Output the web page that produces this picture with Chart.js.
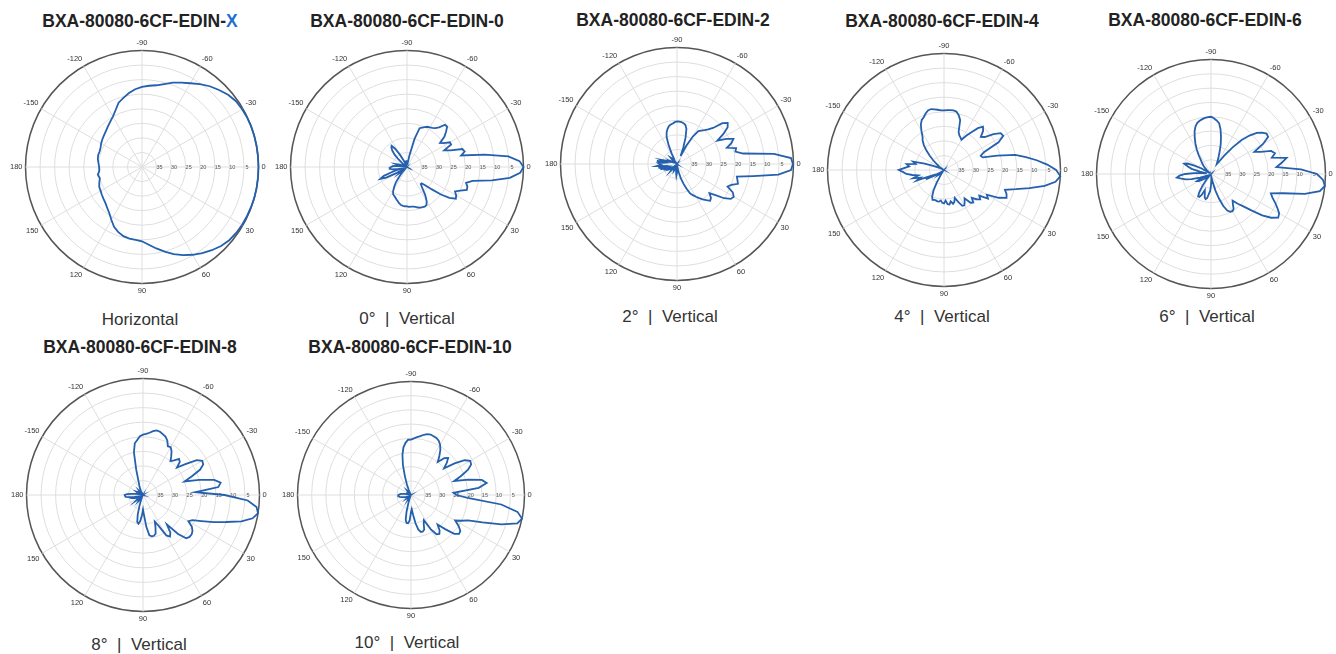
<!DOCTYPE html>
<html>
<head>
<meta charset="utf-8">
<script src="https://cdn.jsdelivr.net/npm/chart.js@4.4.0/dist/chart.umd.min.js"></script>
<style>
body{margin:0;background:#fff;width:1336px;height:654px;position:relative;overflow:hidden;font-family:"Liberation Sans",Arial,sans-serif;}
.t{position:absolute;font-weight:bold;font-size:17.5px;line-height:20px;color:#222;transform:translateX(-50%);white-space:nowrap}
.t span{color:#1f6fd0}
.c{position:absolute;font-size:17px;line-height:20px;color:#333;transform:translateX(-50%);white-space:nowrap}
canvas{position:absolute}
</style>
</head>
<body>
<div class="t" style="left:140px;top:11px">BXA-80080-6CF-EDIN-<span>X</span></div>
<div class="t" style="left:407px;top:11px">BXA-80080-6CF-EDIN-0</div>
<div class="t" style="left:673px;top:10px">BXA-80080-6CF-EDIN-2</div>
<div class="t" style="left:942px;top:11px">BXA-80080-6CF-EDIN-4</div>
<div class="t" style="left:1205px;top:10px">BXA-80080-6CF-EDIN-6</div>
<div class="t" style="left:140px;top:337px">BXA-80080-6CF-EDIN-8</div>
<div class="t" style="left:410px;top:337px">BXA-80080-6CF-EDIN-10</div>

<div class="c" style="left:140px;top:310px">Horizontal</div>
<div class="c" style="left:407px;top:309px">0°&nbsp; |&nbsp; Vertical</div>
<div class="c" style="left:670px;top:307px">2°&nbsp; |&nbsp; Vertical</div>
<div class="c" style="left:942px;top:307px">4°&nbsp; |&nbsp; Vertical</div>
<div class="c" style="left:1207px;top:307px">6°&nbsp; |&nbsp; Vertical</div>
<div class="c" style="left:139px;top:635px">8°&nbsp; |&nbsp; Vertical</div>
<div class="c" style="left:407px;top:633px">10°&nbsp; |&nbsp; Vertical</div>

<canvas id="pX" width="264" height="264" style="left:6px;top:35px"></canvas>
<canvas id="p0" width="264" height="264" style="left:271px;top:35px"></canvas>
<canvas id="p2" width="264" height="264" style="left:541px;top:32px"></canvas>
<canvas id="p4" width="264" height="264" style="left:808px;top:38px"></canvas>
<canvas id="p6" width="260" height="260" style="left:1077px;top:44px"></canvas>
<canvas id="p8" width="264" height="264" style="left:7px;top:363px"></canvas>
<canvas id="p10" width="258" height="258" style="left:278px;top:366px"></canvas>

<script>
// angles in degrees, clockwise from the right (0), labels shown every 30
const anglesH = [0,5,10,15,20,25,30,35,40,45,50,55,60,65,70,75,80,85,90,95,100,105,110,115,
  120,125,130,135,140,145,150,155,160,165,170,175,180,185,190,195,200,205,210,215,220,225,230,235,
  240,245,250,255,260,265,270,275,280,285,290,295,300,305,310,315,320,325,330,335,340,345,350,355];

const anglesV = [0,3,6,9,12,15,18,21,24,27,30,33,36,39,42,45,48,51,54,57,60,63,66,69,72,75,78,81,84,87,
  90,93,96,99,102,105,108,111,114,117,120,123,126,129,132,135,138,141,144,147,150,153,156,159,162,165,168,171,174,177,
  180,183,186,189,192,195,198,201,204,207,210,213,216,219,222,225,228,231,234,237,240,243,246,249,252,255,258,261,264,267,
  270,273,276,279,282,285,288,291,294,297,300,303,306,309,312,315,318,321,324,327,330,333,336,339,342,345,348,351,354,357];

// relative level in dB
const horizX = [0,0,0,0,-0.1,-0.2, -0.3,-0.5,-0.9,-1.6,-2.7,-3.9, -5.2,-6.6,-8.2,-9.9,-11.6,-13.2,
  -14.5,-14.9,-15.0,-15.4,-16.2,-17.3, -19.0,-20.5,-21.5,-22.3,-22.8,-23.2, -23.6,-23.8,-24.4,-25.0,-24.6,-25.3,
  -25.3,-25.0,-24.6,-24.4,-24.5,-24.3, -23.8,-23.4,-23.0,-22.5,-21.8,-21.0, -20.0,-18.5,-16.5,-15.4,-14.2,-13.2,
  -12.5,-12.0,-11.5,-10.5,-9.2,-8.0, -6.8,-5.3,-3.8,-2.6,-1.4,-0.6, -0.3,-0.1,0,0,0,0];

const vert0 = [0,-1.1,-4.5,-10.5,-17,-19,-18.2,-18,-20,-21.5,
  -20.5,-20,-22,-25,-28.5,-31,-32.5,-32.5,-31,-28.5,
  -26.5,-25.3,-25.1,-25.2,-25.3,-25.6,-26,-26.2,-26.3,-26.3,
  -26.5,-26.5,-26.6,-26.8,-27.2,-27.8,-28.3,-28.8,-29.2,-29.5,
  -30.5,-32,-33.5,-36,-38,-39,-38,-37,-38,-39,
  -36,-32,-30,-31.5,-35,-38,-37,-35,-34,-34,
  -34.5,-35,-36,-38,-37,-36,-37,-39,-39.5,-39,
  -39,-39.5,-39,-38,-36,-34,-32.5,-31.5,-31,-32.5,
  -35,-37.5,-39,-39.5,-39.5,-39,-38.5,-38,-38,-38,
  -38,-38.5,-39,-39,-36,-30,-26,-25.5,-25,-24.5,
  -24.3,-24,-23.5,-22.5,-20.5,-20.5,-22,-23.5,-26,-25,
  -23,-23,-26,-24,-20,-19.5,-21,-13,-5,-1.3];

const vert2 = [-0.2,-0.8,-5,-13.5,-19,-18.5,-18,-20,-21,-18.5,
  -17.5,-18,-20,-23,-25,-23.5,-23,-24,-25,-26,
  -27,-28,-29,-31,-33,-35,-37,-38.5,-39,-38.5,
  -37,-36,-37,-38.5,-39.5,-39.5,-39,-38,-37.5,-38,
  -39,-39.5,-39,-38,-37,-38,-39,-38,-37,-36.5,
  -37.5,-37,-35,-36.5,-34,-36,-33.5,-35.5,-33,-34.5,
  -34,-33.5,-35.5,-33,-36,-34.5,-36.5,-38,-37.5,-38.5,
  -39,-39.5,-39,-38.5,-38,-37,-37.5,-38.5,-39,-38.5,
  -38,-36,-33,-30,-28.5,-27.5,-26.7,-26.3,-26,-25.6,
  -25.4,-25.4,-25.5,-25.8,-26.2,-27.5,-30.5,-34,-37,-33,
  -29,-26.5,-25.8,-25,-24,-22.5,-19,-17.6,-18.5,-21,
  -24,-21,-18.8,-20,-22,-19,-19.5,-17,-6.5,-0.8];

const vert4 = [-1.5,0,-1.5,-5,-10,-14.5,-18,-17,-16.5,-19,
  -23,-22,-25,-24,-25,-26.5,-25,-25.5,-28,-27,
  -26,-26.2,-28,-29.7,-28.5,-28,-29,-28,-28.2,-29.5,
  -28.5,-28.7,-29.5,-29,-29,-29.2,-29.2,-29,-30,-32,
  -35,-38,-39,-39.5,-39,-38,-37.5,-38.5,-39,-38,
  -36,-33,-35,-30,-31.5,-29,-31,-29,-27,-26,
  -24.5,-26.5,-28,-27,-30,-29,-33,-36,-38,-39,
  -39.5,-39,-38,-37,-35,-33,-31,-29,-27.5,-26.5,
  -24.5,-22.5,-21.2,-20.6,-19.6,-18.8,-18.6,-18.9,-19.2,-19.5,
  -19.5,-19.4,-19.3,-19.3,-19.5,-20.5,-22,-26,-27,-27.5,
  -28,-26,-24,-21.5,-20,-21,-23,-22,-19,-16.8,
  -16.5,-19,-25,-26.5,-26,-21,-15,-11.5,-8,-4.5];

const vert6 = [-3,-0.8,0,-1.5,-6.5,-14,-18,-17,-15.5,-14,
  -12.5,-12,-14,-17,-21,-24,-26,-28,-27,-25.5,
  -25,-25.2,-26,-28,-31,-34,-37,-38.5,-39,-38,
  -36,-34,-33,-31.5,-31,-31.5,-33,-34,-32,-31,
  -31,-32.5,-35,-37.5,-39,-39.5,-39,-38,-37,-36,
  -35,-34.5,-36,-38,-36,-33,-31,-29.5,-28,-29,
  -31,-34,-37,-38.5,-36,-33,-31.5,-30,-31,-33.5,
  -36,-38.5,-39.5,-39,-38,-37,-36,-35,-34,-32,
  -30,-28,-26,-24,-22.5,-21.5,-21,-20.6,-20.3,-20.1,
  -20,-20.5,-21.2,-22,-24,-26.5,-29,-31.5,-33.5,-35,
  -36,-35,-32,-28,-24,-21,-18.5,-17,-16,-16.2,
  -19,-23,-21,-17.5,-16.5,-18,-13,-15,-17,-8.5];

const vert8 = [-12,-4,-0.8,0,-1.5,-5,-10,-14,-18,-21,
  -22,-20,-19,-18.5,-18.5,-19,-22,-27,-24,-23,
  -24,-28,-30,-28,-26,-25.5,-25.5,-26,-29,-33,
  -35,-33,-31,-30,-30.5,-33,-36,-38,-39,-39.5,
  -39,-38,-37.5,-38.5,-39.5,-39,-38,-37,-38,-39,
  -39.5,-39,-38,-37,-36.5,-38,-37,-35.5,-34,-33.8,
  -33.7,-34.5,-36,-37.5,-38.5,-39,-39.5,-39,-38,-37.5,
  -38,-39,-39.5,-39.5,-39,-38.5,-38,-38.5,-39,-39.5,
  -39.5,-38.5,-37.5,-36.5,-35,-31,-25,-22,-21,-19.8,
  -19.3,-19,-18.5,-17.8,-17.3,-17.5,-18,-18.5,-19.5,-21.2,
  -21,-22,-23.5,-25,-24,-22.5,-23,-25,-22,-18,
  -16.5,-16.8,-18.5,-22,-25,-20,-15,-13,-14,-22];

const vert10 = [-24,-20,-8,-2,0,-1.2,-6.5,-13,-18,-20,
  -22,-20,-18.5,-18.2,-19.5,-23,-26,-24,-23,-23.5,
  -26,-30,-29,-27,-26.5,-26.5,-27.5,-30,-33,-35,
  -34,-31,-30,-30,-31,-34,-37,-38.5,-39.5,-39.5,
  -39,-38.5,-39,-39.5,-39.5,-39,-38.5,-38,-38.5,-39,
  -39.5,-39,-38.5,-38,-37.5,-37,-36.5,-36,-35.5,-35.5,
  -35.5,-36,-36.5,-37.5,-38.5,-39,-39.5,-39.5,-39,-38.5,
  -38.5,-39,-39.5,-39.5,-39,-38.5,-38,-38.5,-39,-39.5,
  -39.5,-39,-38,-36,-33,-29,-25.5,-23,-21.5,-20.5,
  -20.5,-20,-19.5,-19,-18.3,-17.8,-17.6,-17.8,-18,-18.5,
  -19.5,-21,-23,-25,-22.5,-21.5,-23,-25,-21,-17.5,
  -15.9,-16.2,-18,-21,-24,-19,-14.5,-13,-16,-25];

const ringTicks = [-35,-30,-25,-20,-15,-10,-5];

// attenuation numbers written horizontally along the 0 degree radius
const ringLabels = {
  id: 'ringLabels',
  beforeDatasetsDraw(chart) {
    const s = chart.scales.r;
    const ctx = chart.ctx;
    ctx.save();
    ctx.font = '5.5px "Liberation Sans"';
    ctx.fillStyle = '#555';
    ctx.textAlign = 'center';
    ctx.textBaseline = 'middle';
    ringTicks.forEach(v => {
      const d = s.getDistanceFromCenterForValue(v);
      ctx.fillText(String(-v), s.xCenter + d + 3, s.yCenter);
    });
    ctx.restore();
  }
};

function polar(id, labels, values) {
  return new Chart(document.getElementById(id), {
    type: 'radar',
    data: {
      labels: labels,
      datasets: [{
        data: values,
        borderColor: '#2460ad',
        borderWidth: 1.8,
        fill: false,
        pointRadius: 0,
        tension: 0
      }]
    },
    options: {
      responsive: false,
      animation: false,
      layout: { padding: 0 },
      plugins: { legend: { display: false }, tooltip: { enabled: false } },
      scales: {
        r: {
          min: -40,
          max: 0,
          startAngle: 90,
          ticks: { stepSize: 5, display: false },
          grid: {
            circular: true,
            color: c => c.tick.value === 0 ? '#555' : '#dedede',
            lineWidth: c => c.tick.value === 0 ? 1.5 : 1
          },
          angleLines: {
            color: '#dedede',
            // only the labelled directions (every 30 degrees) get a spoke
            lineWidth: c => c.label !== '' ? 1 : 0
          },
          pointLabels: {
            color: '#333',
            padding: 3,
            font: { family: 'Liberation Sans', size: 7.5 },
            callback: (lbl) => {
              const a = Number(lbl);
              if (a % 30 !== 0) return '';
              return String(a > 180 ? a - 360 : a);
            }
          }
        }
      }
    },
    plugins: [ringLabels]
  });
}

polar('pX', anglesH, horizX);
polar('p0', anglesV, vert0);
polar('p2', anglesV, vert2);
polar('p4', anglesV, vert4);
polar('p6', anglesV, vert6);
polar('p8', anglesV, vert8);
polar('p10', anglesV, vert10);
</script>
</body>
</html>
